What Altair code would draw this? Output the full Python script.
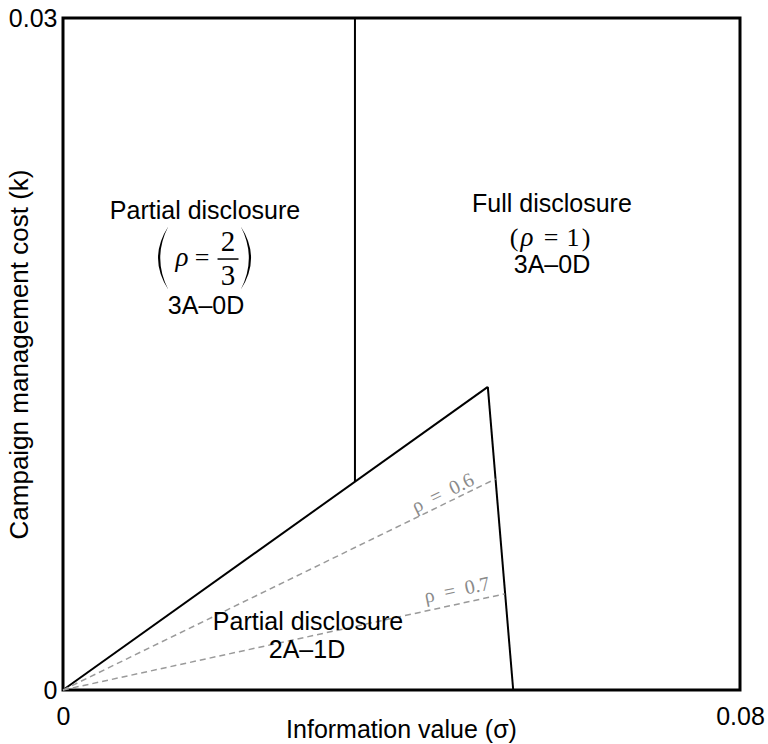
import altair as alt
import pandas as pd

# ---- data (information value sigma, campaign cost k) ----
sigma_max = 0.08
k_max = 0.03
# outer boundary of the 2A-1D region: origin -> apex -> base
bound_sigma = [0.0, 0.0502, 0.0532]
bound_k = [0.0, 0.01353, 0.0]
# vertical split between partial (rho=2/3) and full disclosure
split_sigma = 0.0345
split_k_low = 0.00929
# iso-rho dashed lines inside the 2A-1D region
rho_labels = ["ρ\u2002=\u20020.6", "ρ\u2002=\u20020.7"]
rho_sigma_end = [0.0511, 0.0522]
rho_k_end = [0.00942, 0.00429]
x_ticks = [0, 0.08]
y_ticks = [0, 0.03]

# ---- annotation texts ----
sans_text = ["Partial disclosure", "3A–0D", "Full disclosure", "3A–0D",
             "Partial disclosure", "2A–1D"]
sans_x = [0.01678, 0.01690, 0.05778, 0.05778, 0.02895, 0.02883]
sans_y = [0.02103, 0.01680, 0.02134, 0.01862, 0.00268, 0.00143]

serif_text = ["=", "(", "=", "1", ")"]
serif_x = [0.01643, 0.05329, 0.05767, 0.06027, 0.06180]
serif_y = [0.01893, 0.01982, 0.01982, 0.01982, 0.01982]

frac_text = ["2", "3"]
frac_tx = [0.01950, 0.01950]
frac_ty = [0.01962, 0.01806]

ital_text = ["ρ", "ρ"]
ital_x = [0.01406, 0.05483]
ital_y = [0.01893, 0.01982]

frac_x = [0.01826]
frac_x2 = [0.02074]
frac_y = [0.01924]

paren_x = [0.01188, 0.02157]
paren_y = [0.01929, 0.01929]

rho_lab_x = [0.04490, 0.04656]
rho_lab_y = [0.00878, 0.00445]
rho_lab_angle = [334, 348]

# ---- tables ----
seg = pd.DataFrame({
    "x": bound_sigma[:-1] + [split_sigma],
    "y": bound_k[:-1] + [split_k_low],
    "x2": bound_sigma[1:] + [split_sigma],
    "y2": bound_k[1:] + [k_max],
})
dash = pd.DataFrame({"x": [0.0, 0.0], "y": [0.0, 0.0],
                     "x2": rho_sigma_end, "y2": rho_k_end})
sans = pd.DataFrame({"x": sans_x, "y": sans_y, "t": sans_text})
serif = pd.DataFrame({"x": serif_x, "y": serif_y, "t": serif_text})
fract = pd.DataFrame({"x": frac_tx, "y": frac_ty, "t": frac_text})
ital = pd.DataFrame({"x": ital_x, "y": ital_y, "t": ital_text})
frac = pd.DataFrame({"x": frac_x, "x2": frac_x2, "y": frac_y})
lp = pd.DataFrame({"x": paren_x[:1], "y": paren_y[:1]})
rp = pd.DataFrame({"x": paren_x[1:], "y": paren_y[1:]})
rl = pd.DataFrame({"x": rho_lab_x, "y": rho_lab_y, "t": rho_labels,
                   "a": rho_lab_angle})

X = alt.X("x:Q", scale=alt.Scale(domain=[0, sigma_max], nice=False, zero=False),
          axis=alt.Axis(values=x_ticks, format="~g", title="Information value (σ)",
                        grid=False, ticks=False, domain=False, labelFlush=False,
                        labelFontSize=25, labelPadding=14, labelColor="black",
                        titleFontSize=25, titleFontWeight="normal", titleColor="black",
                        titleX=338, titleY=47, titleAlign="center",
                        titleBaseline="alphabetic"))
Y = alt.Y("y:Q", scale=alt.Scale(domain=[0, k_max], nice=False, zero=False),
          axis=alt.Axis(values=y_ticks, format="~g", title="Campaign management cost (k)",
                        grid=False, ticks=False, domain=False,
                        labelFontSize=25, labelPadding=6, labelColor="black",
                        titleFontSize=26, titleFontWeight="normal", titleColor="black",
                        titleX=-36, titleY=336, titleAngle=270, titleAlign="center",
                        titleBaseline="alphabetic"))

solid = alt.Chart(seg).mark_rule(color="black", strokeWidth=2).encode(
    x=X, y=Y, x2="x2:Q", y2="y2:Q")
dashed = alt.Chart(dash).mark_rule(color="#9a9a9a", strokeWidth=1.5,
                                   strokeDash=[6, 4]).encode(
    x=X, y=Y, x2="x2:Q", y2="y2:Q")
sans_l = alt.Chart(sans).mark_text(font="Liberation Sans", fontSize=25,
                                   align="center", baseline="alphabetic",
                                   color="black").encode(x=X, y=Y, text="t:N")
serif_l = alt.Chart(serif).mark_text(font="Liberation Serif", fontSize=26,
                                     align="center", baseline="alphabetic",
                                     color="black").encode(x=X, y=Y, text="t:N")
fract_l = alt.Chart(fract).mark_text(font="Liberation Serif", fontSize=29,
                                     align="center", baseline="alphabetic",
                                     color="black").encode(x=X, y=Y, text="t:N")
ital_l = alt.Chart(ital).mark_text(font="Liberation Serif", fontSize=27,
                                   fontStyle="italic", align="center",
                                   baseline="alphabetic",
                                   color="black").encode(x=X, y=Y, text="t:N")
frac_l = alt.Chart(frac).mark_rule(color="black", strokeWidth=1.5).encode(
    x=X, y=Y, x2="x2:Q")
lparen_path = "M 0.15 -1 Q -0.5 0 0.15 1 Q -0.36 0 0.15 -1 Z"
rparen_path = "M -0.15 -1 Q 0.5 0 -0.15 1 Q 0.36 0 -0.15 -1 Z"
lp_l = alt.Chart(lp).mark_point(shape=lparen_path, size=3969, filled=True,
                                color="black", opacity=1).encode(x=X, y=Y)
rp_l = alt.Chart(rp).mark_point(shape=rparen_path, size=3969, filled=True,
                                color="black", opacity=1).encode(x=X, y=Y)
rl6 = alt.Chart(rl.iloc[:1]).mark_text(font="Liberation Serif", fontSize=20,
                                        angle=rho_lab_angle[0], align="center",
                                        baseline="middle", color="#8a8a8a").encode(
    x=X, y=Y, text="t:N")
rl7 = alt.Chart(rl.iloc[1:]).mark_text(font="Liberation Serif", fontSize=20,
                                        angle=rho_lab_angle[1], align="center",
                                        baseline="middle", color="#8a8a8a").encode(
    x=X, y=Y, text="t:N")

chart = alt.layer(solid, dashed, frac_l, lp_l, rp_l, sans_l, serif_l, fract_l,
                  ital_l, rl6, rl7).properties(
    width=677, height=672,
    padding={"left": 63, "top": 18, "right": 28, "bottom": 54},
    autosize=alt.AutoSizeParams(type="none"),
    background="white",
).configure_view(stroke="black", strokeWidth=3).configure_axis(
    labelFont="Liberation Sans", titleFont="Liberation Sans")

chart.save("out.html", embed_options={"renderer": "svg", "actions": False})
